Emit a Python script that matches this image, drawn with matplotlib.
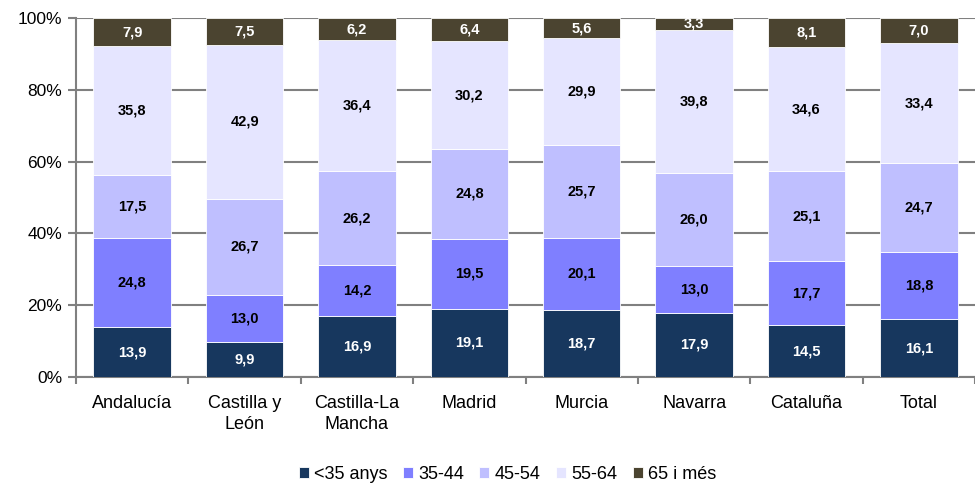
import matplotlib
matplotlib.use("Agg")
import matplotlib.pyplot as plt
import numpy as np
from matplotlib import font_manager

categories = ["Andalucía", "Castilla y\nLeón", "Castilla-La\nMancha", "Madrid", "Murcia", "Navarra", "Cataluña", "Total"]
series_names = ["<35 anys", "35-44", "45-54", "55-64", "65 i més"]
lt35 = [13.9, 9.9, 16.9, 19.1, 18.7, 17.9, 14.5, 16.1]
a35_44 = [24.8, 13.0, 14.2, 19.5, 20.1, 13.0, 17.7, 18.8]
a45_54 = [17.5, 26.7, 26.2, 24.8, 25.7, 26.0, 25.1, 24.7]
a55_64 = [35.8, 42.9, 36.4, 30.2, 29.9, 39.8, 34.6, 33.4]
ge65 = [7.9, 7.5, 6.2, 6.4, 5.6, 3.3, 8.1, 7.0]
yticks = [0, 20, 40, 60, 80, 100]

colors = ["#17375E", "#7F7FFF", "#BFBFFF", "#E5E5FF", "#4B4430"]
label_colors = ["white", "black", "black", "black", "white"]

plt.rcParams['font.family'] = ['Liberation Sans', 'DejaVu Sans']

# look for Liberation Sans Narrow Bold for the value labels
narrow_file = None
for f in font_manager.fontManager.ttflist:
    fn = f.fname.lower().replace(" ", "").replace("-", "").replace("_", "")
    if "liberationsansnarrow" in fn and "bold" in fn and "italic" not in fn:
        narrow_file = f.fname
        break
if narrow_file:
    label_fp = font_manager.FontProperties(fname=narrow_file, size=12)
else:
    label_fp = font_manager.FontProperties(family=['Liberation Sans', 'DejaVu Sans'], weight="bold", size=10.5)

data = np.array([lt35, a35_44, a45_54, a55_64, ge65])
totals = data.sum(axis=0)
norm = data / totals * 100

fig = plt.figure(figsize=(9.75, 4.86), dpi=100)
ax = fig.add_axes([0.078, 0.224, 0.922, 0.739])
x = np.arange(len(categories))
bottom = np.zeros(len(categories))
for i, name in enumerate(series_names):
    ax.bar(x, norm[i], bottom=bottom, width=0.69, color=colors[i], label=name,
           edgecolor="white", linewidth=0.6, zorder=3)
    for j in range(len(categories)):
        ax.text(x[j], bottom[j] + norm[i][j] / 2, f"{data[i][j]:.1f}".replace(".", ","),
                ha="center", va="center", fontproperties=label_fp,
                color=label_colors[i], zorder=4)
    bottom += norm[i]

ax.set_xlim(-0.5, len(categories) - 0.5)
ax.set_ylim(0, 100)
ax.set_yticks(yticks)
ax.set_yticklabels([f"{v}%" for v in yticks], fontsize=12.5)
ax.yaxis.grid(True, color="#808080", linewidth=1.5, zorder=0)
ax.set_xticks(x)
ax.set_xticklabels(categories, fontsize=13, linespacing=1.3)
ax.tick_params(axis="x", length=0, pad=13)
ax.set_xticks(np.arange(len(categories) + 1) - 0.5, minor=True)
ax.tick_params(axis="x", which="minor", length=5, color="#808080", width=1.5)
ax.tick_params(axis="y", length=6, color="#808080", width=1.5, pad=4)
for s in ["top", "right"]:
    ax.spines[s].set_visible(False)
for s in ["left", "bottom"]:
    ax.spines[s].set_color("#808080")
    ax.spines[s].set_linewidth(1.5)

handles, labels = ax.get_legend_handles_labels()
fig.legend(handles, labels, loc="center", bbox_to_anchor=(0.5205, 0.024), ncol=5,
           frameon=False, fontsize=13, handlelength=0.55, handleheight=0.55,
           handletextpad=0.3, columnspacing=0.85)

fig.savefig("out.png", dpi=100)
